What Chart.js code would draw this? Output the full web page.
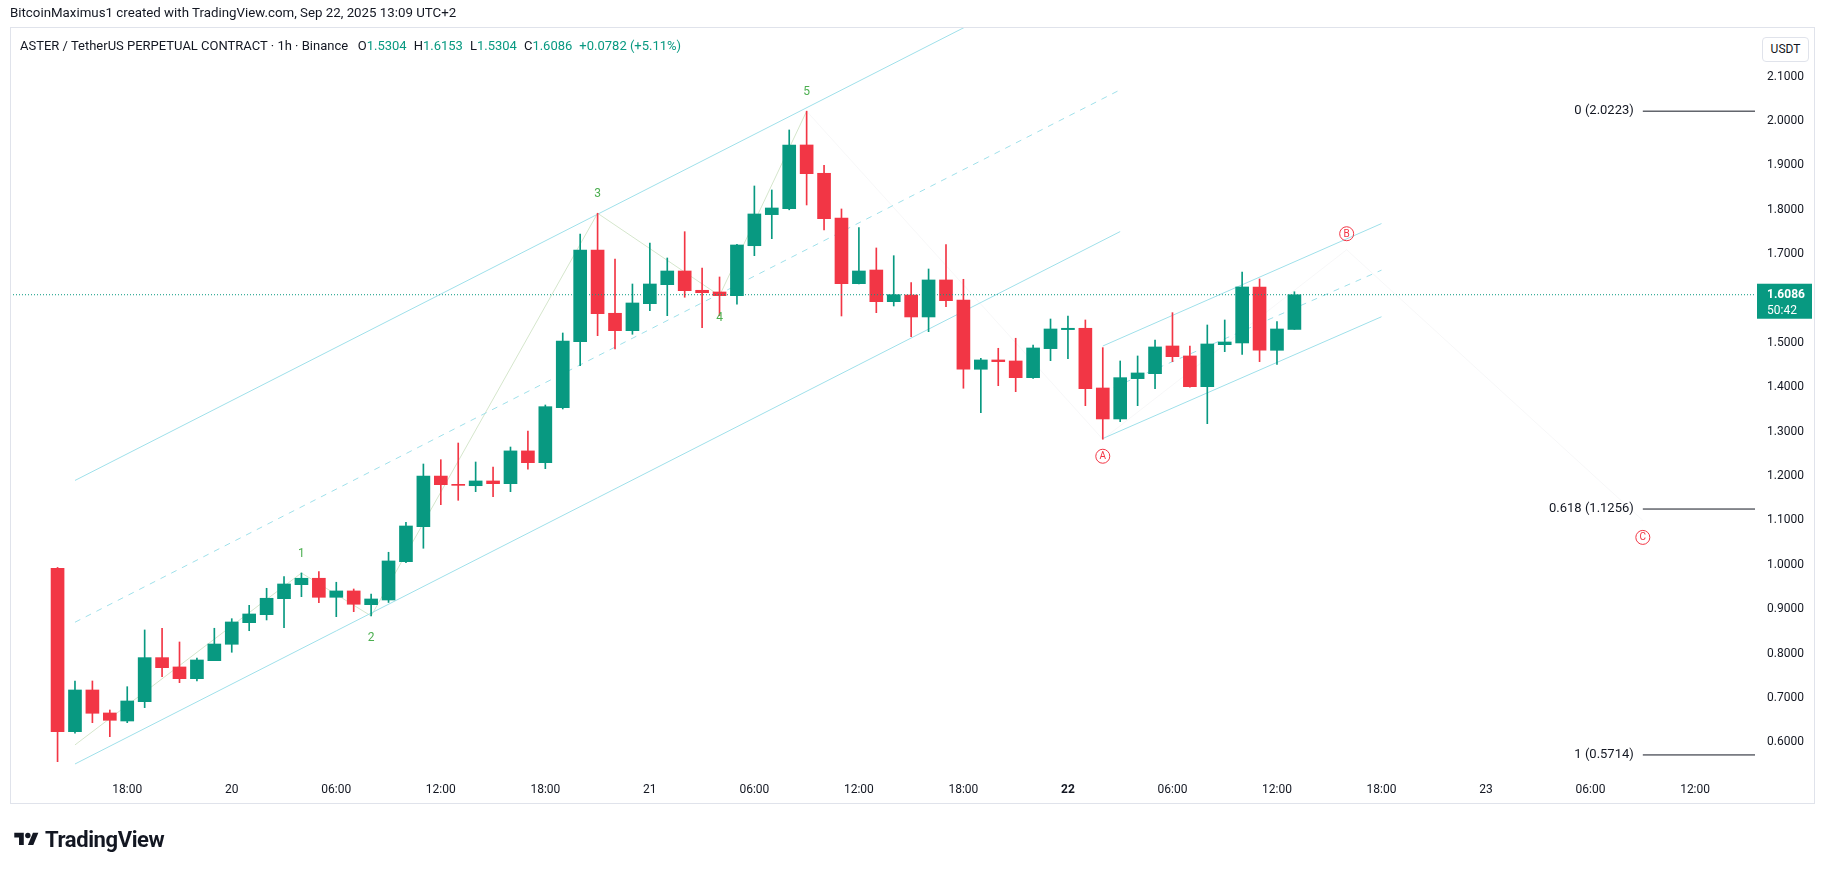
<!DOCTYPE html>
<html>
<head>
<meta charset="utf-8">
<title>ASTER / USDT 1h</title>
<script src="https://cdn.jsdelivr.net/npm/chart.js@4.4.1/dist/chart.umd.min.js"></script>
<style>
  body { margin: 0; background: #fff; font-family: Roboto, "Noto Sans", sans-serif; color: #131722; }
  #wrap { position: relative; width: 1826px; height: 871px; overflow: hidden; }
  #chart { position: absolute; left: 0; top: 0; }
  #frame { position: absolute; left: 10px; top: 27px; width: 1805px; height: 777px; border: 1px solid #e0e3eb; box-sizing: border-box; pointer-events: none; }
  #credit { position: absolute; left: 10px; top: 5px; font-size: 13.3px; white-space: nowrap; }
  #legend { position: absolute; left: 20px; top: 38px; font-size: 13px; white-space: nowrap; }
  #legend .v { color: #089981; margin-right: 7px; }
  #usdt { position: absolute; left: 1762px; top: 37px; width: 47px; height: 25px; border: 1px solid #e0e3eb; border-radius: 4px; box-sizing: border-box; font-size: 12px; text-align: center; line-height: 23px; background: #fff; }
  #logo { position: absolute; left: 14px; top: 827px; display: flex; align-items: center; }
  #logo span { font-size: 22px; font-weight: 700; margin-left: 6px; letter-spacing: -0.4px; color: #131722; }
</style>
</head>
<body>
<div id="wrap">
  <canvas id="chart" width="1826" height="871"></canvas>
  <div id="frame"></div>
  <div id="credit">BitcoinMaximus1 created with TradingView.com, Sep 22, 2025 13:09 UTC+2</div>
  <div id="legend">ASTER / TetherUS PERPETUAL CONTRACT · 1h · Binance&nbsp;&nbsp;
    <span>O</span><span class="v">1.5304</span><span>H</span><span class="v">1.6153</span><span>L</span><span class="v">1.5304</span><span>C</span><span class="v">1.6086</span><span class="v">+0.0782 (+5.11%)</span>
  </div>
  <div id="usdt">USDT</div>
  <div id="logo">
    <svg width="25" height="19" viewBox="0 0 36 28"><path d="M14 22H7V11H0V4h14v18zM28 22h-8l7.5-18h8L28 22z" fill="#131722"/><circle cx="20" cy="8" r="4" fill="#131722"/></svg>
    <span>TradingView</span>
  </div>
</div>
<script>
// hourly candles, index 0 = Sep 19 14:00
const opens = [0.9921, 0.6238, 0.7178, 0.6660, 0.6479, 0.6915, 0.7907, 0.7697, 0.7433, 0.7838,
  0.8208, 0.8695, 0.8875, 0.9236, 0.9551, 0.9696, 0.9267, 0.9410, 0.9101, 0.9206,
  1.0070, 1.0858, 1.1999, 1.1810, 1.1782, 1.1889, 1.1828, 1.2566, 1.2301, 1.3540,
  1.5028, 1.7094, 1.5668, 1.5276, 1.5884, 1.6313, 1.6621, 1.6186, 1.6148, 1.6065,
  1.7191, 1.7891, 1.8025, 1.9461, 1.8823, 1.7816, 1.6335, 1.6643, 1.5929, 1.6080,
  1.5585, 1.6419, 1.5968, 1.4406, 1.4616, 1.4593, 1.4217, 1.4871, 1.5300, 1.5330,
  1.3984, 1.3286, 1.4195, 1.4307, 1.4931, 1.4706, 1.4014, 1.4961, 1.4999, 1.6261,
  1.4834, 1.5304];
const highs = [0.9940, 0.7381, 0.7381, 0.6727, 0.7252, 0.8531, 0.8569, 0.8260, 0.7899, 0.8569,
  0.8785, 0.9086, 0.9470, 0.9732, 0.9815, 0.9845, 0.9606, 0.9454, 0.9342, 1.0282,
  1.0957, 1.2271, 1.2368, 1.2744, 1.2316, 1.2204, 1.2654, 1.3015, 1.3601, 1.5224,
  1.7455, 1.7922, 1.6892, 1.6328, 1.7252, 1.6914, 1.7507, 1.6689, 1.6486, 1.7220,
  1.8537, 1.8447, 1.9799, 2.0223, 1.9004, 1.8019, 1.7597, 1.7140, 1.6966, 1.6358,
  1.6666, 1.7214, 1.6434, 1.4654, 1.4879, 1.5105, 1.4954, 1.5539, 1.5607, 1.5517,
  1.4893, 1.4593, 1.4706, 1.5066, 1.5682, 1.4931, 1.5404, 1.5517, 1.6599, 1.6441,
  1.5479, 1.6153];
const lows = [0.5562, 0.6202, 0.6441, 0.6126, 0.6441, 0.6780, 0.7478, 0.7343, 0.7381, 0.7838,
  0.8028, 0.8514, 0.8756, 0.8582, 0.9281, 0.9145, 0.8830, 0.8943, 0.8846, 0.9150,
  1.0050, 1.0372, 1.1354, 1.1453, 1.1648, 1.1535, 1.1648, 1.2152, 1.2166, 1.3511,
  1.4487, 1.5163, 1.4863, 1.5195, 1.5727, 1.5614, 1.6029, 1.5343, 1.5614, 1.5871,
  1.6966, 1.7349, 1.8000, 1.8109, 1.7545, 1.5607, 1.6330, 1.5682, 1.5832, 1.5141,
  1.5254, 1.5817, 1.3978, 1.3428, 1.4036, 1.3901, 1.4200, 1.4600, 1.4645, 1.3586,
  1.2829, 1.3225, 1.3586, 1.3969, 1.4578, 1.4000, 1.3180, 1.4803, 1.4743, 1.4578,
  1.4518, 1.5304];
const closes = [0.6238, 0.7178, 0.6653, 0.6495, 0.6930, 0.7907, 0.7681, 0.7433, 0.7854, 0.8214,
  0.8711, 0.8891, 0.9245, 0.9567, 0.9696, 0.9267, 0.9410, 0.9110, 0.9229, 1.0086,
  1.0874, 1.1999, 1.1805, 1.1790, 1.1889, 1.1828, 1.2566, 1.2301, 1.3563, 1.5044,
  1.7094, 1.5659, 1.5276, 1.5900, 1.6328, 1.6621, 1.6177, 1.6132, 1.6065, 1.7207,
  1.7906, 1.8041, 1.9461, 1.8814, 1.7800, 1.6335, 1.6621, 1.5929, 1.6087, 1.5585,
  1.6419, 1.5952, 1.4406, 1.4616, 1.4578, 1.4217, 1.4886, 1.5314, 1.5330, 1.3969,
  1.3286, 1.4217, 1.4323, 1.4909, 1.4690, 1.4014, 1.4976, 1.5021, 1.6261, 1.4834,
  1.5314, 1.6086];

const lastPrice = 1.6086;
const countdown = '50:42';

// time axis (candle index) and price axis
const xMin = -2.73, xMax = 97.44;
const yMin = 0.5307, yMax = 2.212;
const timeTickIdx = [4, 10, 16, 22, 28, 34, 40, 46, 52, 58, 64, 70, 76, 82, 88, 94];
const timeTickLabels = ['18:00', '20', '06:00', '12:00', '18:00', '21', '06:00', '12:00',
  '18:00', '22', '06:00', '12:00', '18:00', '23', '06:00', '12:00'];
const priceTicks = [2.1, 2.0, 1.9, 1.8, 1.7, 1.5, 1.4, 1.3, 1.2, 1.1, 1.0, 0.9, 0.8, 0.7, 0.6];

// drawings
const bigChannelX = [1, 61];
const bigUpper = [1.19, 2.39];
const bigMid = [0.8705, 2.0705];
const bigLower = [0.551, 1.751];
const smallChannelX = [60, 76];
const smallUpper = [1.493, 1.769];
const smallMid = [1.389, 1.664];
const smallLower = [1.2845, 1.559];

const waveX = [1, 14, 18, 31, 38, 43];
const waveY = [0.594, 0.9815, 0.8846, 1.7922, 1.6065, 2.0223];
const waveLabels = ['', '1', '2', '3', '4', '5'];

const abcX = [43, 60, 74, 91];
const abcY = [2.0223, 1.2829, 1.71, 1.10];
const abcLabels = ['', 'A', 'B', 'C'];

const fibStartX = 91;
const fibLevels = ['0', '0.618', '1'];
const fibPrices = [2.0223, 1.1256, 0.5714];

const UP = '#089981', DOWN = '#f23645';
const FONT = 'Roboto, "Noto Sans", sans-serif';

function pts(xs, ys) {
  return xs.map((x, i) => ({ x: x, y: ys[i] }));
}
function candleColor(ctx) {
  const i = ctx.dataIndex;
  return closes[i] >= opens[i] ? UP : DOWN;
}
function lineDs(data, color, extra) {
  return Object.assign({
    type: 'line', data: data, borderColor: color, borderWidth: 1,
    pointRadius: 0, fill: false, tension: 0, order: 5
  }, extra || {});
}

const channelColor = '#9fe0ea';

const datasets = [
  lineDs(pts(bigChannelX, bigUpper), channelColor),
  lineDs(pts(bigChannelX, bigMid), channelColor, { borderDash: [6, 6] }),
  lineDs(pts(bigChannelX, bigLower), channelColor),
  lineDs(pts(smallChannelX, smallUpper), channelColor),
  lineDs(pts(smallChannelX, smallMid), channelColor, { borderDash: [6, 6] }),
  lineDs(pts(smallChannelX, smallLower), channelColor),
  lineDs(pts(waveX, waveY), '#d5e6cc'),
  lineDs(pts(abcX, abcY), 'rgba(150,155,165,0.08)'),
  lineDs(pts([xMin, xMax], [lastPrice, lastPrice]), UP, { borderDash: [1, 2], order: 0 }),
  {
    type: 'bar', label: 'wicks',
    data: lows.map((l, i) => ({ x: i, y: [l, highs[i]] })),
    backgroundColor: candleColor, barThickness: 1, grouped: false, order: 2
  },
  {
    type: 'bar', label: 'bodies',
    data: opens.map((o, i) => ({ x: i, y: [o, closes[i]] })),
    backgroundColor: candleColor, barThickness: 13, grouped: false, minBarLength: 1, order: 1
  }
];
fibPrices.forEach(p => {
  datasets.push(lineDs(pts([fibStartX, xMax], [p, p]), '#131722', { order: 0 }));
});

// labels, wave marks and the last price tag
const annotations = {
  id: 'annotations',
  afterDatasetsDraw(chart) {
    const c = chart.ctx, xs = chart.scales.x, ys = chart.scales.y;
    c.save();
    c.textAlign = 'center';
    c.textBaseline = 'middle';

    c.font = '12px ' + FONT;
    c.fillStyle = '#4caf50';
    for (let i = 1; i < waveX.length; i++) {
      const px = xs.getPixelForValue(waveX[i]);
      const py = ys.getPixelForValue(waveY[i]) + (i % 2 ? -19 : 22);
      c.fillText(waveLabels[i], px, py);
    }

    c.strokeStyle = '#f23645';
    c.fillStyle = '#f23645';
    c.lineWidth = 1;
    c.font = '10px ' + FONT;
    for (let i = 1; i < abcX.length; i++) {
      const px = xs.getPixelForValue(abcX[i]);
      const py = ys.getPixelForValue(abcY[i]) + (i === 2 ? -16 : 17);
      c.beginPath();
      c.arc(px, py, 7, 0, Math.PI * 2);
      c.stroke();
      c.fillText(abcLabels[i], px, py + 0.5);
    }

    c.fillStyle = '#131722';
    c.font = '13px ' + FONT;
    c.textAlign = 'right';
    fibPrices.forEach((p, i) => {
      const px = xs.getPixelForValue(fibStartX) - 9;
      c.fillText(fibLevels[i] + ' (' + p.toFixed(4) + ')', px, ys.getPixelForValue(p));
    });

    const py = ys.getPixelForValue(lastPrice);
    const left = chart.chartArea.right + 2;
    c.fillStyle = UP;
    c.fillRect(left, py - 11, 55, 35);
    c.fillStyle = '#fff';
    c.textAlign = 'left';
    c.font = 'bold 12px ' + FONT;
    c.fillText(lastPrice.toFixed(4), left + 10, py);
    c.font = '12px ' + FONT;
    c.fillText(countdown, left + 10, py + 16);
    c.restore();
  }
};

new Chart(document.getElementById('chart'), {
  type: 'bar',
  data: { datasets: datasets },
  options: {
    responsive: false,
    animation: false,
    layout: { padding: { left: 10, right: 11, top: 27, bottom: 68 } },
    plugins: { legend: { display: false }, tooltip: { enabled: false } },
    scales: {
      x: {
        type: 'linear', min: xMin, max: xMax, offset: false,
        grid: { display: false, drawTicks: false }, border: { display: false },
        afterBuildTicks: ax => { ax.ticks = timeTickIdx.map(v => ({ value: v })); },
        afterFit: ax => { ax.height = 30; },
        ticks: {
          padding: 10, autoSkip: false, maxRotation: 0, color: '#131722',
          font: ctx => ({ family: FONT, size: 12, weight: ctx.tick && ctx.tick.value === 58 ? 'bold' : 'normal' }),
          callback: v => timeTickLabels[timeTickIdx.indexOf(v)]
        }
      },
      y: {
        position: 'right', min: yMin, max: yMax,
        grid: { display: false, drawTicks: false }, border: { display: false },
        afterBuildTicks: ax => { ax.ticks = priceTicks.map(v => ({ value: v })); },
        afterFit: ax => { ax.width = 60; },
        ticks: { padding: 12, color: '#131722', font: { family: FONT, size: 12 }, callback: v => v.toFixed(4) }
      }
    }
  },
  plugins: [annotations]
});
</script>
</body>
</html>
